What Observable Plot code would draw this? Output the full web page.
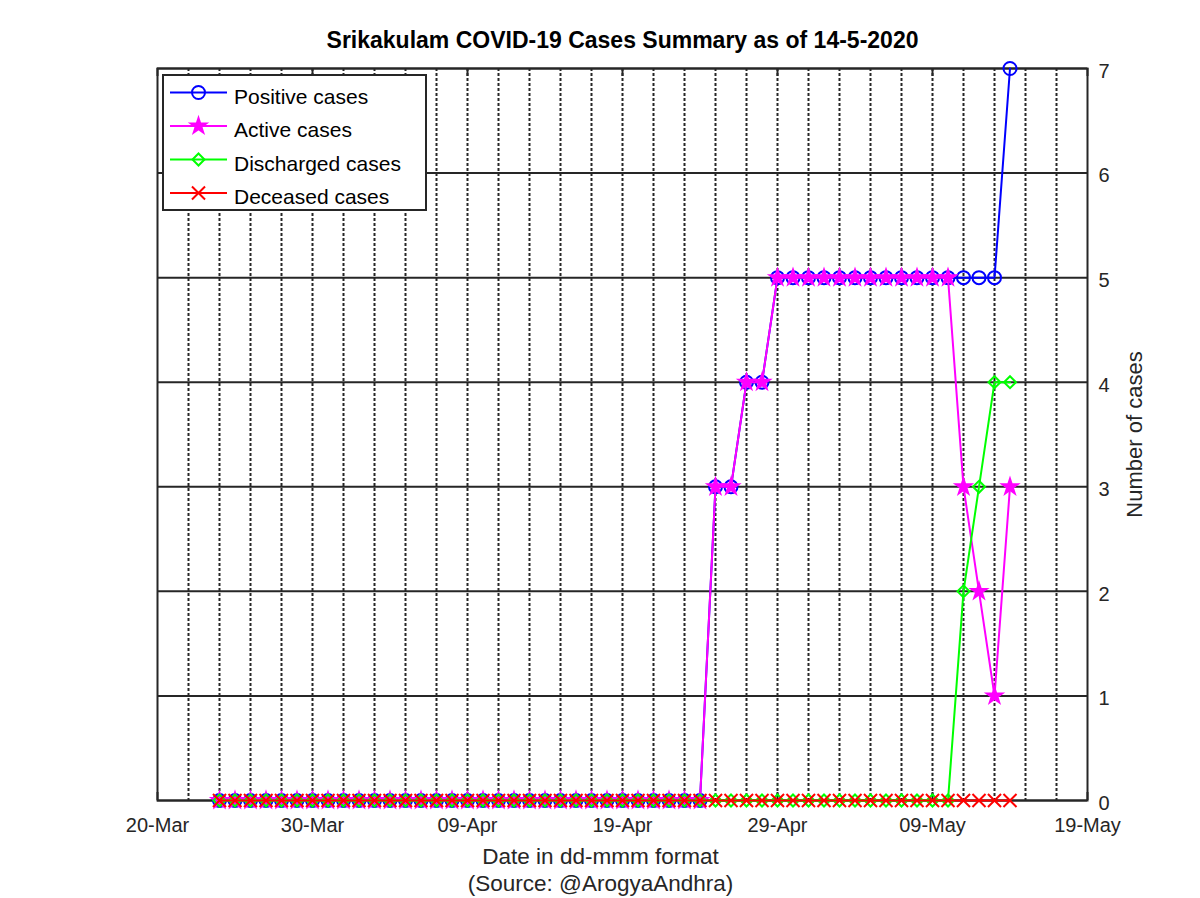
<!DOCTYPE html>
<html>
<head>
<meta charset="utf-8">
<script src="https://cdn.jsdelivr.net/npm/d3@7"></script>
<script src="https://cdn.jsdelivr.net/npm/@observablehq/plot@0.6"></script>
<style>
  html, body { margin: 0; padding: 0; background: #ffffff; }
  #chart svg { display: block; }
</style>
</head>
<body>
<div id="chart"></div>
<script>
// ---------- Data ----------
const dates = [
  "2020-03-24","2020-03-25","2020-03-26","2020-03-27","2020-03-28","2020-03-29","2020-03-30","2020-03-31",
  "2020-04-01","2020-04-02","2020-04-03","2020-04-04","2020-04-05","2020-04-06","2020-04-07","2020-04-08",
  "2020-04-09","2020-04-10","2020-04-11","2020-04-12","2020-04-13","2020-04-14","2020-04-15","2020-04-16",
  "2020-04-17","2020-04-18","2020-04-19","2020-04-20","2020-04-21","2020-04-22","2020-04-23","2020-04-24",
  "2020-04-25","2020-04-26","2020-04-27","2020-04-28","2020-04-29","2020-04-30",
  "2020-05-01","2020-05-02","2020-05-03","2020-05-04","2020-05-05","2020-05-06","2020-05-07","2020-05-08",
  "2020-05-09","2020-05-10","2020-05-11","2020-05-12","2020-05-13","2020-05-14"
];
const positive = [
  0,0,0,0,0,0,0,0, 0,0,0,0,0,0,0,0, 0,0,0,0,0,0,0,0, 0,0,0,0,0,0,0,0,
  3,3,4,4,5,5, 5,5,5,5,5,5,5,5, 5,5,5,5,5,7
];
const active = [
  0,0,0,0,0,0,0,0, 0,0,0,0,0,0,0,0, 0,0,0,0,0,0,0,0, 0,0,0,0,0,0,0,0,
  3,3,4,4,5,5, 5,5,5,5,5,5,5,5, 5,5,3,2,1,3
];
const discharged = [
  0,0,0,0,0,0,0,0, 0,0,0,0,0,0,0,0, 0,0,0,0,0,0,0,0, 0,0,0,0,0,0,0,0,
  0,0,0,0,0,0, 0,0,0,0,0,0,0,0, 0,0,2,3,4,4
];
const deceased = [
  0,0,0,0,0,0,0,0, 0,0,0,0,0,0,0,0, 0,0,0,0,0,0,0,0, 0,0,0,0,0,0,0,0,
  0,0,0,0,0,0, 0,0,0,0,0,0,0,0, 0,0,0,0,0,0
];
const seriesNames = ["Positive cases", "Active cases", "Discharged cases", "Deceased cases"];
const xTickLabels = ["2020-03-20","2020-03-30","2020-04-09","2020-04-19","2020-04-29","2020-05-09","2020-05-19"];
const yTicks = [0, 1, 2, 3, 4, 5, 6, 7];
const titleText = "Srikakulam COVID-19 Cases Summary as of 14-5-2020";
const xLabelText = "Date in dd-mmm format\n(Source: @ArogyaAndhra)";
const yLabelText = "Number of cases";

// ---------- Styling ----------
const FONT = "'Liberation Sans', Arial, Helvetica, sans-serif";
const AX = "#262626";
const styles = [
  {color: "#0000ff", symbol: "circle",   r: 6.5, fill: "none",    d3sym: d3.symbolCircle},
  {color: "#ff00ff", symbol: "star",     r: 4.8, fill: "#ff00ff", d3sym: d3.symbolStar},
  {color: "#00ff00", symbol: "diamond2", r: 5.4, fill: "none",    d3sym: d3.symbolDiamond2},
  {color: "#ff0000", symbol: "times",    r: 6,   fill: "none",    d3sym: d3.symbolTimes}
];

const parse = s => new Date(s + "T00:00:00Z");
const allSeries = [positive, active, discharged, deceased].map(vals =>
  dates.map((d, i) => ({date: parse(d), value: vals[i]}))
);
const xTicks = xTickLabels.map(parse);
const xDomain = [xTicks[0], xTicks[xTicks.length - 1]];
const gridDates = d3.utcDay.range(d3.utcDay.offset(xDomain[0], 2), xDomain[1], 2);

const W = 1200, H = 898;
const mL = 157, mR = 113, mT = 68, mB = 98;
const innerH = H - mT - mB;

const seriesMarks = [];
allSeries.forEach((data, k) => {
  const s = styles[k];
  seriesMarks.push(Plot.line(data, {x: "date", y: "value", stroke: s.color, strokeWidth: 2}));
  seriesMarks.push(Plot.dot(data, {
    x: "date", y: "value", symbol: () => s.symbol, r: s.r,
    stroke: s.color, fill: s.fill, strokeWidth: 2
  }));
});

// legend as a render function
function legend(index, scales, values, dimensions) {
  const g = d3.create("svg:g");
  const bx = 163, by = 75, bw = 263, bh = 135;
  g.append("rect").attr("x", bx).attr("y", by).attr("width", bw).attr("height", bh)
    .attr("fill", "#ffffff").attr("stroke", AX).attr("stroke-width", 2);
  const rowY = [92.5, 126, 159.5, 193];
  seriesNames.forEach((name, k) => {
    const s = styles[k];
    const y = rowY[k];
    g.append("line").attr("x1", 170).attr("x2", 227).attr("y1", y).attr("y2", y)
      .attr("stroke", s.color).attr("stroke-width", 2);
    g.append("path")
      .attr("transform", `translate(198.5,${y})`)
      .attr("d", d3.symbol(s.d3sym, Math.PI * s.r * s.r)())
      .attr("fill", s.fill).attr("stroke", s.color).attr("stroke-width", 2);
    g.append("text").attr("x", 234).attr("y", y + 11)
      .attr("text-anchor", "start")
      .attr("fill", "#000").attr("font-size", 21).attr("font-family", FONT)
      .text(name);
  });
  return g.node();
}

const chart = Plot.plot({
  width: W,
  height: H,
  marginLeft: mL,
  marginRight: mR,
  marginTop: mT,
  marginBottom: mB,
  style: {background: "#ffffff", color: AX, fontFamily: FONT, fontSize: "20px", overflow: "visible"},
  x: {type: "utc", domain: xDomain},
  y: {domain: [0, 7]},
  marks: [
    Plot.ruleY(yTicks, {stroke: AX, strokeWidth: 2}),
    Plot.ruleX(gridDates, {stroke: AX, strokeWidth: 2, strokeDasharray: "3,2"}),
    Plot.ruleX(xTicks, {stroke: AX, strokeWidth: 2, insetTop: innerH - 8}),
    Plot.ruleX(xTicks, {stroke: AX, strokeWidth: 2, insetBottom: innerH - 8}),
    Plot.frame({stroke: AX, strokeWidth: 2}),
    Plot.axisX({ticks: xTicks, tickFormat: d3.utcFormat("%d-%b"), tickSize: 0, tickPadding: 17, label: null, fontSize: 20}),
    Plot.axisY({anchor: "right", ticks: yTicks, tickFormat: d3.format("d"), tickSize: 0, tickPadding: 11, label: null, dy: 3, fontSize: 20}),
    ...seriesMarks,
    Plot.text([titleText], {frameAnchor: "top", dy: -21, lineAnchor: "bottom", text: d => d,
      fontWeight: "bold", fontSize: 23, fill: "#000"}),
    Plot.text([xLabelText], {frameAnchor: "bottom", dx: -22, dy: 44, lineAnchor: "top", text: d => d,
      fontSize: 22.5, lineHeight: 27 / 22.5, fill: AX}),
    Plot.text([yLabelText], {frameAnchor: "right", dx: 47, rotate: -90, lineAnchor: "middle", textAnchor: "middle",
      text: d => d, fontSize: 22, fill: AX}),
    legend
  ]
});

document.getElementById("chart").appendChild(chart);
</script>
</body>
</html>
